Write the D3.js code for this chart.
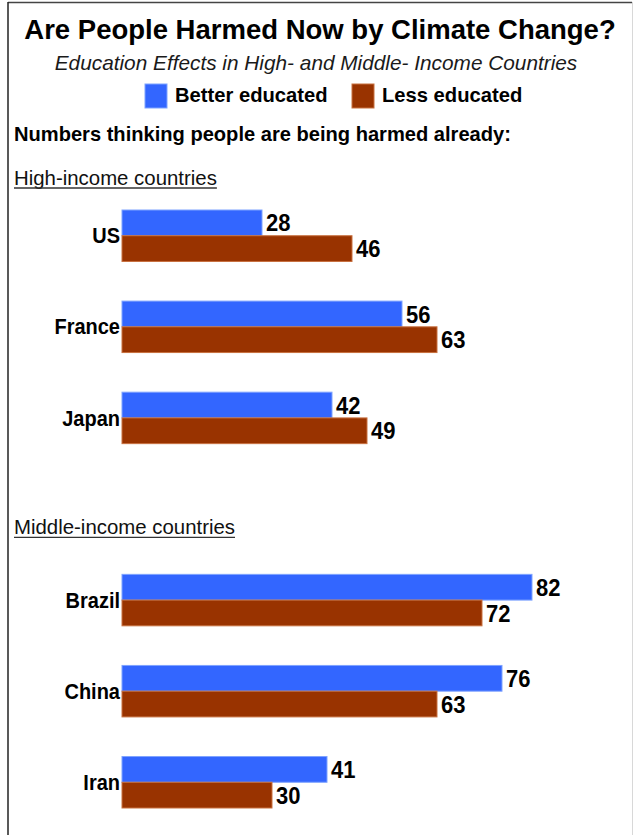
<!DOCTYPE html>
<html>
<head>
<meta charset="utf-8">
<script src="https://cdn.jsdelivr.net/npm/d3@7"></script>
<style>
  html, body { margin: 0; padding: 0; background: #fff; }
  svg { display: block; }
  text { font-family: "Liberation Sans", Arial, Helvetica, sans-serif; fill: #000; }
</style>
</head>
<body>
<script>
// Survey values: share thinking people are already being harmed by climate change
const countries = ["US", "France", "Japan", "Brazil", "China", "Iran"];
const betterEducated = [28, 56, 42, 82, 76, 41];
const lessEducated = [46, 63, 49, 72, 63, 30];
const countryGroup = [0, 0, 0, 1, 1, 1];
const incomeGroups = ["High-income countries", "Middle-income countries"];
const seriesNames = ["Better educated", "Less educated"];
const seriesKeys = ["better", "less"];
const seriesColors = ["#3366ff", "#993300"];
const seriesEdges = ["#7fa3ff", "#c8703f"];

const width = 634, height = 835;

const svg = d3.select("body").append("svg")
  .attr("width", width)
  .attr("height", height);

// Frame
svg.append("line").attr("x1", 8).attr("x2", 632).attr("y1", 2.5).attr("y2", 2.5)
  .attr("stroke", "#444").attr("stroke-width", 1.5);
svg.append("line").attr("x1", 8).attr("x2", 8).attr("y1", 2).attr("y2", height)
  .attr("stroke", "#222").attr("stroke-width", 1.5);
svg.append("line").attr("x1", 632.5).attr("x2", 632.5).attr("y1", 2).attr("y2", height)
  .attr("stroke", "#d8d8d8").attr("stroke-width", 1);

// Titles
svg.append("text")
  .attr("x", 320).attr("y", 39)
  .attr("text-anchor", "middle")
  .style("font-size", "27.5px").style("font-weight", "bold")
  .text("Are People Harmed Now by Climate Change?");

svg.append("text")
  .attr("x", 316).attr("y", 70)
  .attr("text-anchor", "middle")
  .style("font-size", "20.8px").style("font-style", "italic").style("fill", "#1a1a1a")
  .text("Education Effects in High- and Middle- Income Countries");

// Legend
const legendX = [145, 352];
const legend = svg.append("g");
seriesNames.forEach((name, i) => {
  legend.append("rect")
    .attr("x", legendX[i]).attr("y", 84)
    .attr("width", 22).attr("height", 24)
    .attr("fill", seriesColors[i])
    .attr("stroke", seriesEdges[i]).attr("stroke-width", 1);
  legend.append("text")
    .attr("x", legendX[i] + 30).attr("y", 102)
    .style("font-size", "20.2px").style("font-weight", "bold")
    .text(name);
});

svg.append("text")
  .attr("x", 14).attr("y", 141)
  .style("font-size", "20.1px").style("font-weight", "bold")
  .text("Numbers thinking people are being harmed already:");

// Scales: one row slot per country, with an empty slot between income groups
const slotOf = countries.map((c, i) => i + countryGroup[i]);
const y = d3.scaleBand()
  .domain(d3.range(countries.length + incomeGroups.length - 1))
  .range([210, 808])
  .paddingInner(0.435)
  .paddingOuter(0);

const ySeries = d3.scaleBand()
  .domain(seriesKeys)
  .range([0, y.bandwidth()]);

const x = d3.scaleLinear()
  .domain([0, 100])
  .range([122, 622]);

// Income group headings (underlined)
incomeGroups.forEach((g, gi) => {
  const first = countryGroup.indexOf(gi);
  const top = y(slotOf[first]);
  const baseline = top - (gi === 0 ? 25 : 40);
  const t = svg.append("text")
    .attr("x", 14).attr("y", baseline)
    .style("font-size", "20.4px").style("fill", "#111")
    .text(g);
  const w = t.node().getComputedTextLength();
  svg.append("line")
    .attr("x1", 14).attr("x2", 14 + w)
    .attr("y1", baseline + 3).attr("y2", baseline + 3)
    .attr("stroke", "#333").attr("stroke-width", 1.3);
});

const rows = countries.map((c, i) => ({
  country: c,
  slot: slotOf[i],
  values: [
    { key: "better", value: betterEducated[i], s: 0 },
    { key: "less", value: lessEducated[i], s: 1 }
  ]
}));

const row = svg.selectAll("g.row")
  .data(rows)
  .join("g")
  .attr("class", "row")
  .attr("transform", d => `translate(0,${y(d.slot)})`);

row.selectAll("rect")
  .data(d => d.values)
  .join("rect")
  .attr("x", x(0))
  .attr("y", d => ySeries(d.key))
  .attr("width", d => x(d.value) - x(0))
  .attr("height", ySeries.bandwidth())
  .attr("fill", d => seriesColors[d.s])
  .attr("stroke", d => seriesEdges[d.s])
  .attr("stroke-width", 1);

// Value labels, slightly tall lettering
row.selectAll("text.value")
  .data(d => d.values)
  .join("text")
  .attr("class", "value")
  .attr("transform", d => `translate(${x(d.value) + 4},${ySeries(d.key) + ySeries.bandwidth() / 2}) scale(1,1.08)`)
  .attr("dy", "0.36em")
  .style("font-size", "22px").style("font-weight", "bold")
  .text(d => d.value);

row.append("text")
  .attr("transform", `translate(${x(0) - 2},${y.bandwidth() / 2}) scale(1,1.06)`)
  .attr("dy", "0.36em")
  .attr("text-anchor", "end")
  .style("font-size", "20px").style("font-weight", "bold")
  .text(d => d.country);
</script>
</body>
</html>
